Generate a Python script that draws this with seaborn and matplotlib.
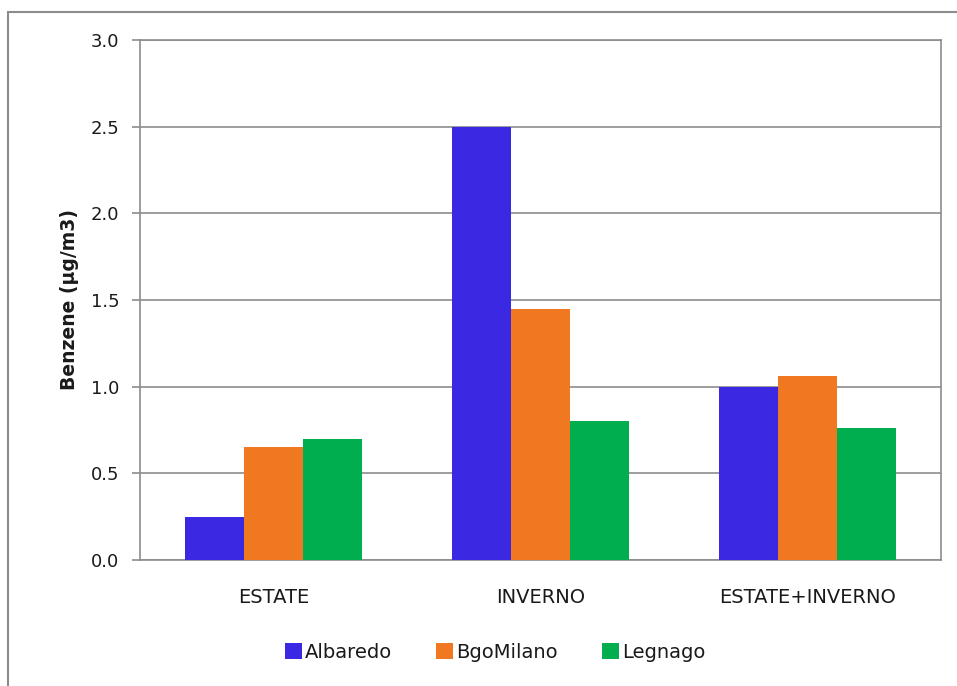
import matplotlib
matplotlib.use("Agg")
import matplotlib.pyplot as plt
import seaborn as sns
import pandas as pd
from matplotlib.patches import Rectangle

# Benzene concentrations by season and monitoring site
periods = ["ESTATE", "INVERNO", "ESTATE+INVERNO"]
sites = ["Albaredo", "BgoMilano", "Legnago"]
albaredo = [0.25, 2.50, 1.00]
bgomilano = [0.65, 1.45, 1.06]
legnago = [0.70, 0.80, 0.76]
y_ticks = [0.0, 0.5, 1.0, 1.5, 2.0, 2.5, 3.0]
y_label = "Benzene (µg/m3)"

colors = ["#3A28E2", "#F07820", "#00AE50"]

df = pd.DataFrame({
    "Periodo": periods * 3,
    "Sito": [s for s in sites for _ in periods],
    "Valore": albaredo + bgomilano + legnago,
})

sns.set_theme(style="white")
plt.rcParams["font.family"] = ["DejaVu Sans"]

fig = plt.figure(figsize=(9.57, 6.86), dpi=100)
ax = fig.add_axes([140 / 957, 1 - 560 / 686, (941 - 140) / 957, (560 - 40) / 686])

sns.barplot(data=df, x="Periodo", y="Valore", hue="Sito", order=periods,
            hue_order=sites, palette=colors, width=0.66, saturation=1,
            linewidth=0, ax=ax, zorder=3)

ax.set_ylim(0, 3.0)
ax.set_yticks(y_ticks)
ax.set_yticklabels([f"{v:.1f}" for v in y_ticks])
ax.yaxis.grid(True, color="#8c8c8c", linewidth=1.2, zorder=0)
ax.set_axisbelow(True)
ax.tick_params(axis="y", length=6, width=1.2, color="#8c8c8c", labelsize=13,
               labelcolor="#1a1a1a", pad=9, left=True)
ax.tick_params(axis="x", length=0, labelsize=14, labelcolor="#1a1a1a", pad=20)
for sp in ax.spines.values():
    sp.set_color("#8c8c8c")
    sp.set_linewidth(1.2)
    sp.set_visible(True)

ax.set_xlabel("")
ax.set_ylabel(y_label, fontsize=13.5, fontweight="bold", color="#1a1a1a", labelpad=8)

leg = ax.legend(loc="center", bbox_to_anchor=(495 / 957, 1 - 652 / 686),
                bbox_transform=fig.transFigure, ncol=3, frameon=False,
                fontsize=14, handlelength=0.85, handleheight=0.85,
                handletextpad=0.15, columnspacing=2.3)
for t in leg.get_texts():
    t.set_color("#1a1a1a")

# Outer chart frame
fig.patches.append(Rectangle((8 / 957, -0.05), 1.2, 1 - 12 / 686 + 0.05,
                             transform=fig.transFigure, fill=False,
                             edgecolor="#8c8c8c", linewidth=1.5))

fig.savefig("out.png", dpi=100)
